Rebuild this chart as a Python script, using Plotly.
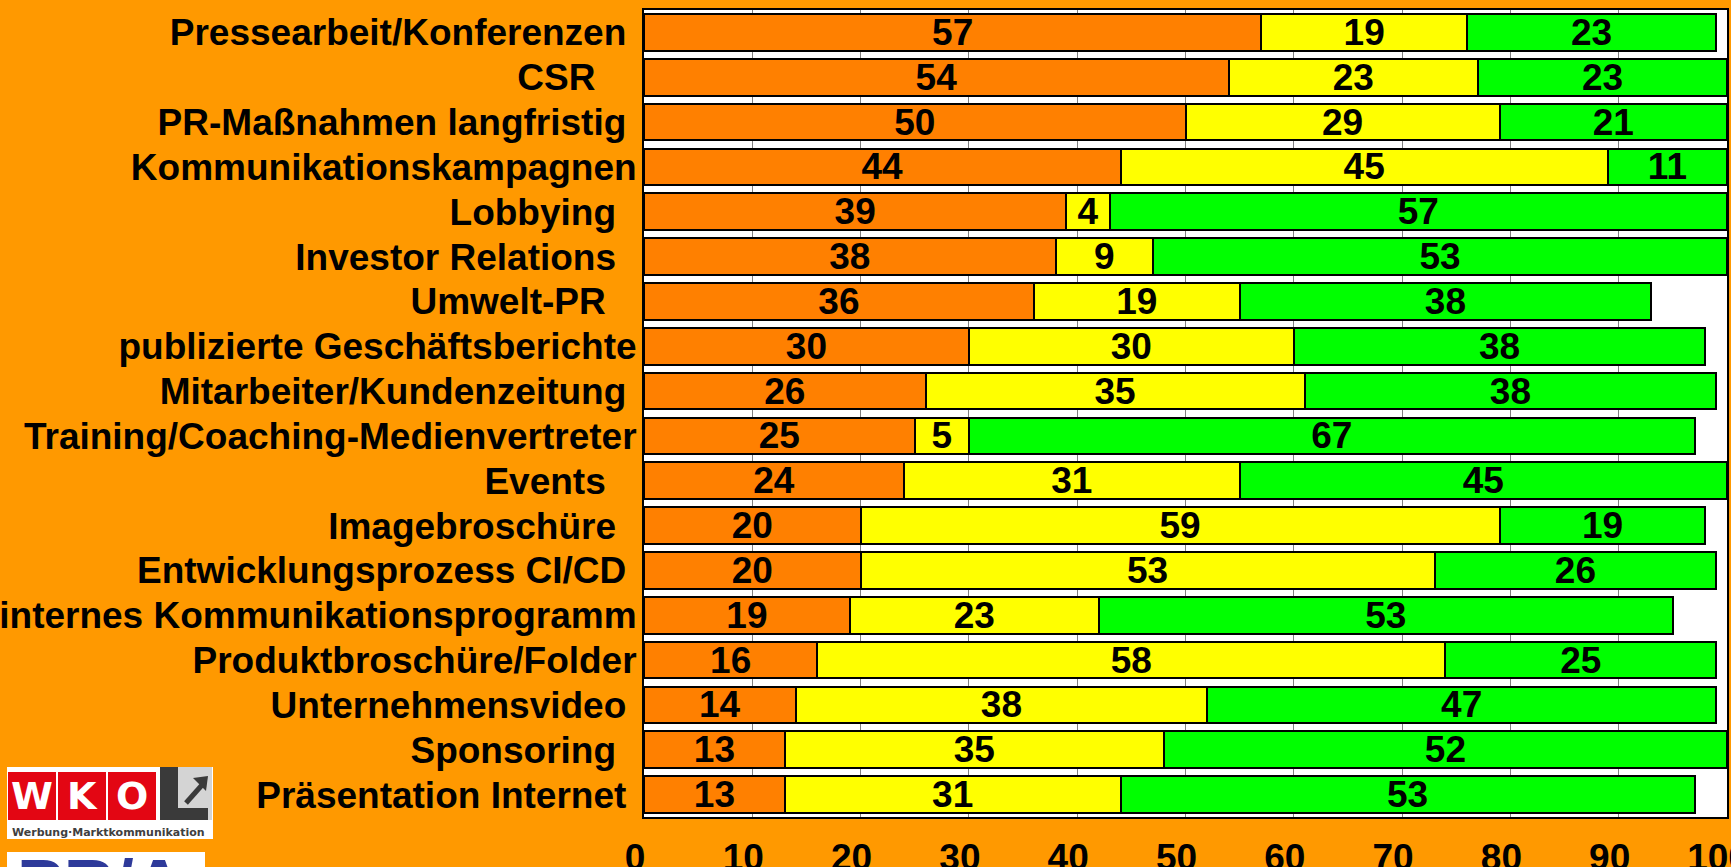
import plotly.graph_objects as go

# ---------------- data ----------------
categories = [
    "Pressearbeit/Konferenzen",
    "CSR",
    "PR-Maßnahmen langfristig",
    "Kommunikationskampagnen",
    "Lobbying",
    "Investor Relations",
    "Umwelt-PR",
    "publizierte Geschäftsberichte",
    "Mitarbeiter/Kundenzeitung",
    "Training/Coaching-Medienvertreter",
    "Events",
    "Imagebroschüre",
    "Entwicklungsprozess CI/CD",
    "internes Kommunikationsprogramm",
    "Produktbroschüre/Folder",
    "Unternehmensvideo",
    "Sponsoring",
    "Präsentation Internet",
]
series_orange = [57, 54, 50, 44, 39, 38, 36, 30, 26, 25, 24, 20, 20, 19, 16, 14, 13, 13]
series_yellow = [19, 23, 29, 45, 4, 9, 19, 30, 35, 5, 31, 59, 53, 23, 58, 38, 35, 31]
series_green = [23, 23, 21, 11, 57, 53, 38, 38, 38, 67, 45, 19, 26, 53, 25, 47, 52, 53]
x_ticks = [0, 10, 20, 30, 40, 50, 60, 70, 80, 90, 100]

# ---------------- style ----------------
W, H = 1731, 867
ML, MR, MT, MB = 644, 4, 10, 50
PW, PH = W - ML - MR, H - MT - MB
FONT = "Arial, Liberation Sans, sans-serif"
FS = 37
BG = "#FF9900"
label_pad = [1, 4, 1, 0, 2, 2, 3, 0, 1, 0, 3, 2, 1, 0, 0, 1, 2, 1]
ticktext = [c + "\u00a0" * p for c, p in zip(categories, label_pad)]


def px(x):
    return (x - ML) / PW


def py(y):
    return (H - MB - y) / PH


fig = go.Figure()
for vals, col in [(series_orange, "#FF8000"), (series_yellow, "#FFFF00"), (series_green, "#00FF00")]:
    fig.add_trace(go.Bar(
        y=categories, x=vals, orientation="h",
        marker=dict(color=col, line=dict(color="black", width=2)),
        text=[str(v) for v in vals], textposition="inside",
        insidetextanchor="middle", textangle=0, constraintext="none",
        textfont=dict(family=FONT, size=FS, color="black", weight="bold"),
        hoverinfo="skip", showlegend=False,
    ))

shapes = []
annotations = []
# WKO logo
shapes.append(dict(type="rect", xref="paper", yref="paper", x0=px(7), x1=px(213), y0=py(839), y1=py(767),
                   fillcolor="white", line=dict(width=0), layer="above"))
for (x0, x1), letter in zip([(8, 56), (58, 106), (108, 156)], ["W", "K", "O"]):
    shapes.append(dict(type="rect", xref="paper", yref="paper", x0=px(x0), x1=px(x1), y0=py(820), y1=py(772),
                       fillcolor="#E30613", line=dict(width=0), layer="above"))
    annotations.append(dict(xref="paper", yref="paper", x=px((x0 + x1) / 2), y=py(796), text=letter,
                            showarrow=False, xanchor="center", yanchor="middle",
                            font=dict(family="DejaVu Sans", size=38, color="white", weight="bold")))
shapes.append(dict(type="rect", xref="paper", yref="paper", x0=px(160), x1=px(212), y0=py(820), y1=py(767),
                   fillcolor="#D4D4D4", line=dict(width=0), layer="above"))
shapes.append(dict(type="rect", xref="paper", yref="paper", x0=px(160), x1=px(178), y0=py(820), y1=py(767),
                   fillcolor="#3A3A3A", line=dict(width=0), layer="above"))
shapes.append(dict(type="rect", xref="paper", yref="paper", x0=px(160), x1=px(208), y0=py(820), y1=py(808),
                   fillcolor="#3A3A3A", line=dict(width=0), layer="above"))
shapes.append(dict(type="line", xref="paper", yref="paper", x0=px(186), x1=px(202), y0=py(803), y1=py(785),
                   line=dict(color="#3A3A3A", width=5), layer="above"))
shapes.append(dict(type="path", xref="paper", yref="paper",
                   path=f"M {px(193)} {py(778)} L {px(208)} {py(776)} L {px(206)} {py(791)} Z",
                   fillcolor="#3A3A3A", line=dict(width=0), layer="above"))
annotations.append(dict(xref="paper", yref="paper", x=px(108), y=py(832.5), text="Werbung·Marktkommunikation",
                        showarrow=False, xanchor="center", yanchor="middle",
                        font=dict(family="DejaVu Sans", size=11, color="#404040", weight="bold")))
# PR/A logo (cut off at bottom)
shapes.append(dict(type="rect", xref="paper", yref="paper", x0=px(7), x1=px(205), y0=py(880), y1=py(852),
                   fillcolor="white", line=dict(width=0), layer="above"))
annotations.append(dict(xref="paper", yref="paper", x=px(100), y=py(844), text="PR/A",
                        showarrow=False, xanchor="center", yanchor="top",
                        font=dict(family=FONT, size=70, color="#2E3A9A", weight="bold")))

fig.update_layout(
    width=W, height=H,
    margin=dict(l=ML, r=MR, t=MT, b=MB, pad=0),
    paper_bgcolor=BG, plot_bgcolor="white",
    barmode="stack", bargap=0.18,
    shapes=shapes, annotations=annotations,
    xaxis=dict(range=[0, 100], tickvals=x_ticks, ticktext=[str(t) for t in x_ticks],
               showgrid=True, gridcolor="#808080", gridwidth=1, zeroline=False,
               showline=True, linecolor="black", linewidth=2, mirror=True,
               ticks="", ticklabelshift=-9, ticklabelstandoff=7, automargin=False,
               ticklabeloverflow="allow",
               tickfont=dict(family=FONT, size=FS, color="black", weight="bold")),
    yaxis=dict(categoryorder="array", categoryarray=categories, autorange="reversed",
               tickvals=categories, ticktext=ticktext,
               showgrid=False, zeroline=False,
               showline=True, linecolor="black", linewidth=2, mirror=True,
               ticks="", automargin=False, ticklabelstandoff=-2,
               ticklabeloverflow="allow",
               tickfont=dict(family=FONT, size=FS, color="black", weight="bold")),
)

fig.write_html("out.html", config={"displayModeBar": False},
               post_script="document.body.style.margin='0px';")
